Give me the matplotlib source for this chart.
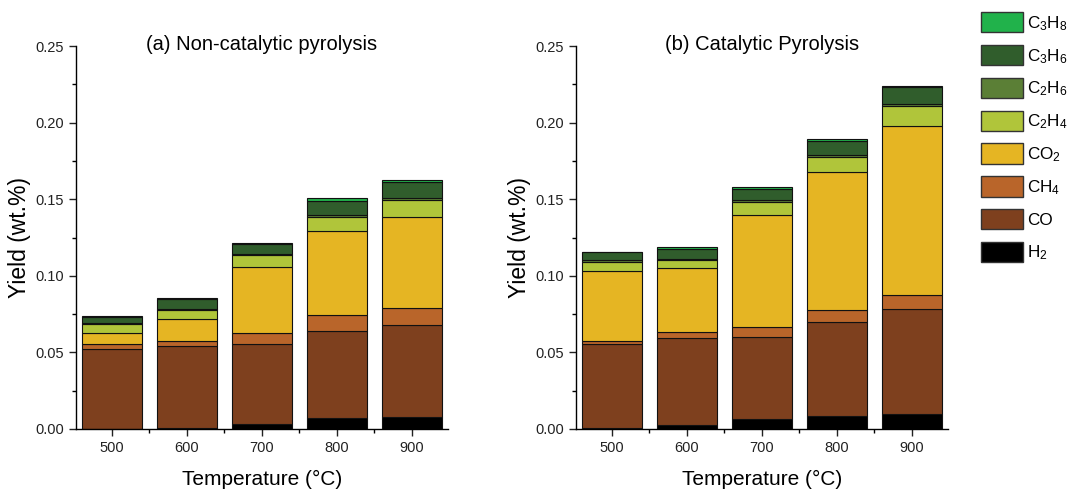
import numpy as np
import matplotlib
matplotlib.use("Agg")
from matplotlib import pyplot as plt
import matplotlib.patches as mpatches
from matplotlib.ticker import MultipleLocator, FixedLocator

plt.rcParams['font.family'] = ['Liberation Sans', 'DejaVu Sans']
plt.rcParams['mathtext.default'] = 'regular'

## Data (wt.%), stacked from bottom
temps = ['500', '600', '700', '800', '900']
gases = ['H2', 'CO', 'CH4', 'CO2', 'C2H4', 'C2H6', 'C3H6', 'C3H8']
gas_labels = [r'$H_2$', 'CO', r'$CH_4$', r'$CO_2$', r'$C_2H_4$', r'$C_2H_6$', r'$C_3H_6$', r'$C_3H_8$']
gas_colors = ['#000000', '#7e401e', '#b9652a', '#e5b523', '#b0c53a', '#5b7f36', '#305d2c', '#21b24b']

noncat_h2 = [0.0003, 0.0009, 0.0035, 0.0074, 0.0078]
noncat_co = [0.0520, 0.0531, 0.0523, 0.0567, 0.0598]
noncat_ch4 = [0.0029, 0.0033, 0.0070, 0.0103, 0.0113]
noncat_co2 = [0.0074, 0.0144, 0.0432, 0.0551, 0.0598]
noncat_c2h4 = [0.0059, 0.0063, 0.0076, 0.0092, 0.0109]
noncat_c2h6 = [0.0005, 0.0005, 0.0006, 0.0011, 0.0014]
noncat_c3h6 = [0.0040, 0.0063, 0.0066, 0.0092, 0.0100]
noncat_c3h8 = [0.0007, 0.0007, 0.0009, 0.0015, 0.0017]

cat_h2 = [0.0009, 0.0026, 0.0066, 0.0083, 0.0100]
cat_co = [0.0543, 0.0570, 0.0537, 0.0618, 0.0684]
cat_ch4 = [0.0024, 0.0035, 0.0063, 0.0076, 0.0089]
cat_co2 = [0.0457, 0.0417, 0.0734, 0.0898, 0.1103]
cat_c2h4 = [0.0059, 0.0057, 0.0085, 0.0102, 0.0133]
cat_c2h6 = [0.0008, 0.0005, 0.0008, 0.0009, 0.0013]
cat_c3h6 = [0.0053, 0.0067, 0.0075, 0.0096, 0.0109]
cat_c3h8 = [0.0004, 0.0009, 0.0011, 0.0013, 0.0009]

noncat = [noncat_h2, noncat_co, noncat_ch4, noncat_co2, noncat_c2h4, noncat_c2h6, noncat_c3h6, noncat_c3h8]
cat = [cat_h2, cat_co, cat_ch4, cat_co2, cat_c2h4, cat_c2h6, cat_c3h6, cat_c3h8]


def stacked_panel(ax, series, title):
    x = np.arange(len(temps))
    bottom = np.zeros(len(temps))
    for vals, col in zip(series, gas_colors):
        ax.bar(x, vals, width=0.8, bottom=bottom, color=col,
               edgecolor='#111111', linewidth=0.8)
        bottom += np.array(vals)

    ax.set_xlim(-0.48, 4.48)
    ax.set_ylim(0, 0.25)
    ax.set_xticks(x)
    ax.set_xticklabels(temps)
    ax.xaxis.set_minor_locator(FixedLocator(np.arange(-0.5, 4.6, 1.0)))
    ax.yaxis.set_major_locator(MultipleLocator(0.05))
    ax.yaxis.set_minor_locator(MultipleLocator(0.025))
    ax.yaxis.set_major_formatter(plt.FormatStrFormatter('%.2f'))

    for s in ['top', 'right']:
        ax.spines[s].set_visible(False)
    ax.spines['left'].set_linewidth(1.0)
    ax.spines['bottom'].set_linewidth(1.0)
    ax.tick_params(which='major', direction='out', length=5, width=1, labelsize=10.5, colors='#222222')
    ax.tick_params(which='minor', direction='out', length=3, width=1)

    ax.set_xlabel('Temperature (°C)', fontsize=15, labelpad=11)
    ax.set_ylabel('Yield (wt.%)', fontsize=16.5, labelpad=3)
    ax.text(0.5, 1.005, title, transform=ax.transAxes, ha='center', va='center', fontsize=14.5)


fig = plt.figure(figsize=(10.69, 4.90), dpi=100)
ax1 = fig.add_axes([0.0708, 0.1245, 0.348, 0.7816])
ax2 = fig.add_axes([0.5385, 0.1245, 0.348, 0.7816])

stacked_panel(ax1, noncat, '(a) Non-catalytic pyrolysis')
stacked_panel(ax2, cat, '(b) Catalytic Pyrolysis')

## Legend (top entry first)
handles = [mpatches.Patch(facecolor=c, edgecolor='#333333', linewidth=1.0, label=l)
           for c, l in zip(gas_colors[::-1], gas_labels[::-1])]
fig.legend(handles=handles, loc='upper left', bbox_to_anchor=(0.908, 0.996),
           frameon=False, fontsize=12.3, handlelength=2.45, handleheight=1.45,
           labelspacing=0.72, handletextpad=0.25, borderaxespad=0.2)

fig.savefig('out.png', dpi=100)
